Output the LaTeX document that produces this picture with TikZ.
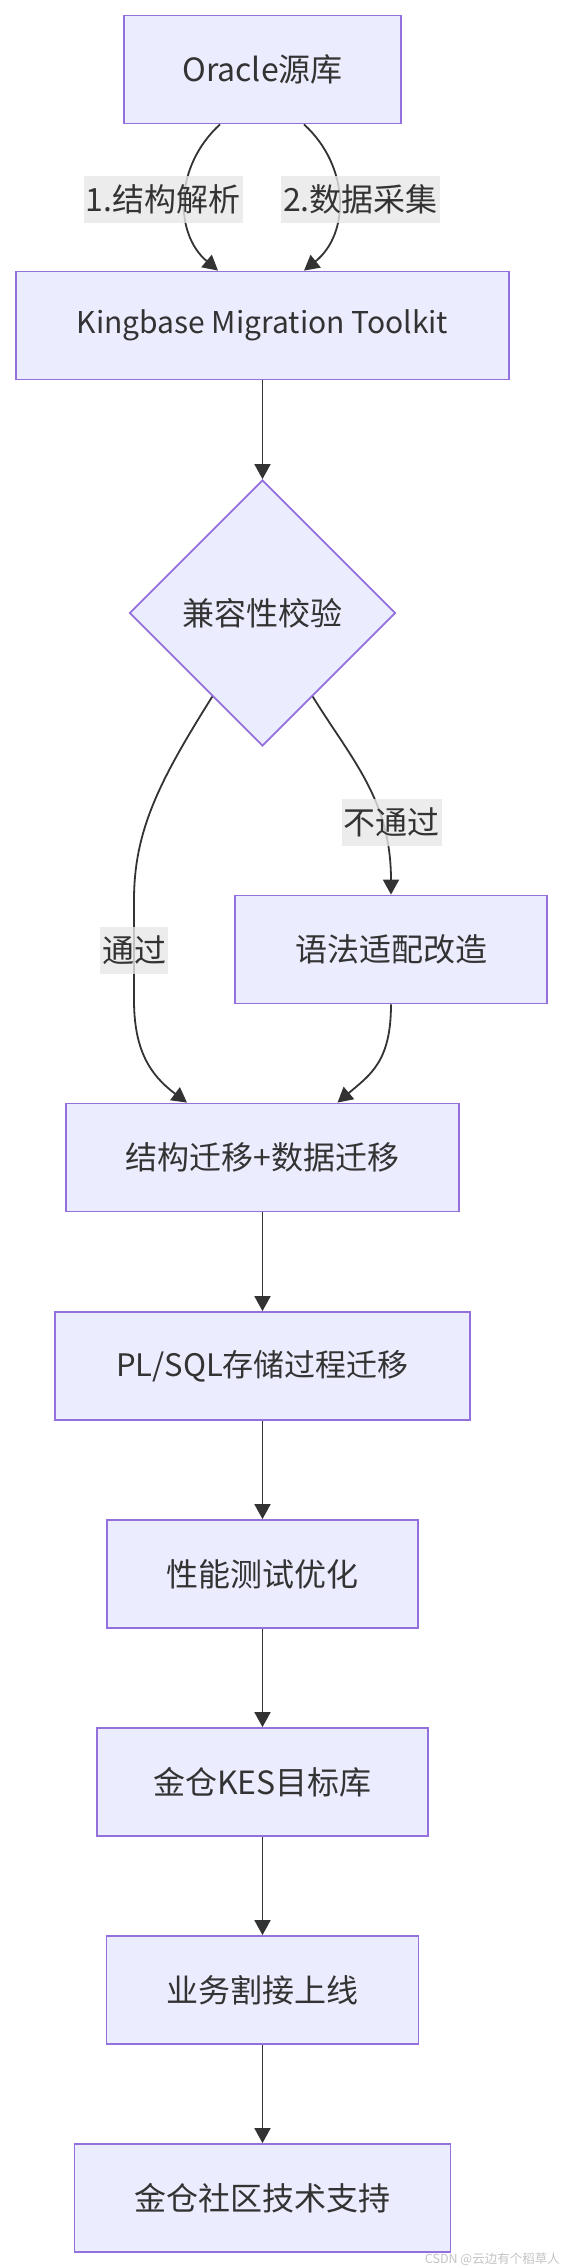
\documentclass[tikz,border=0pt]{standalone}
\usepackage{fontspec}
\setmainfont{Noto Sans CJK SC}
\usetikzlibrary{arrows.meta,shapes.geometric}
\definecolor{nodefill}{HTML}{ECECFF}
\definecolor{nodeline}{HTML}{9370DB}
\definecolor{edgecol}{HTML}{333333}
\definecolor{lblbg}{HTML}{E8E8E8}
\definecolor{txt}{HTML}{333333}
\definecolor{wm}{HTML}{C4C4C4}
\begin{document}
\begin{tikzpicture}[x=1pt,y=-1pt,
  nfont/.style={font=\fontsize{32pt}{38pt}\selectfont},
  box/.style={draw=nodeline, fill=nodefill, line width=1.8pt, minimum height=108pt, inner sep=0pt, text=txt, nfont},
  dec/.style={diamond, aspect=1, draw=nodeline, fill=nodefill, line width=1.8pt, minimum width=266pt, minimum height=266pt, inner sep=0pt, text=txt, nfont},
  edge/.style={draw=edgecol, line width=1.8pt, -{Triangle[width=16pt,length=15pt]}},
  lbl/.style={fill=lblbg, fill opacity=0.8, text opacity=1, text=txt, nfont, inner xsep=2pt, inner ysep=0pt, minimum height=47pt}
]
\fill[white] (0,0) rectangle (563,2268);
\useasboundingbox (0,0) rectangle (563,2268);

\node[box, minimum width=277pt] (o) at (262.5,69.5) {Oracle源库};
\node[box, minimum width=493pt, font=\fontsize{30pt}{36pt}\selectfont] (k) at (262.5,325.5) {Kingbase Migration Toolkit};
\node[dec] (d) at (262.5,613) {兼容性校验};
\node[box, minimum width=312pt] (g) at (391,949.5) {语法适配改造};
\node[box, minimum width=393pt] (s) at (262.5,1157.5) {结构迁移+数据迁移};
\node[box, minimum width=415pt, font=\fontsize{31pt}{37pt}\selectfont] (p) at (262.5,1366) {PL/SQL存储过程迁移};
\node[box, minimum width=311pt] (t) at (262.5,1574) {性能测试优化};
\node[box, minimum width=331pt] (kes) at (262.5,1782) {金仓KES目标库};
\node[box, minimum width=312pt] (b) at (262.5,1990) {业务割接上线};
\node[box, minimum width=376pt] (c) at (262.5,2198) {金仓社区技术支持};

\draw[edge] ([xshift=-42.5pt]o.south) .. controls +(-46,42) and +(-44,-37) .. node[lbl, pos=0.5, xshift=-22pt] {1.结构解析} ([xshift=-44.5pt]k.north);
\draw[edge] ([xshift=41.5pt]o.south) .. controls +(46,42) and +(46,-37) .. node[lbl, pos=0.5, xshift=22pt] {2.数据采集} ([xshift=41.5pt]k.north);
\draw[edge] (k.south) -- (d.north);
\draw[edge] (d.239) .. controls (160,780) and (134,830) .. (134,900) -- node[lbl] {通过} (134,1000) .. controls (134,1050) and (150,1075) .. ([xshift=-75.5pt]s.north);
\draw[edge] (d.301) .. controls (352,760) and (391,800) .. node[lbl, pos=0.7, xshift=10pt] {不通过} (g.north);
\draw[edge] (g.south) .. controls +(0,57) and +(33,-28) .. ([xshift=75pt]s.north);
\draw[edge] (s.south) -- (p.north);
\draw[edge] (p.south) -- (t.north);
\draw[edge] (t.south) -- (kes.north);
\draw[edge] (kes.south) -- (b.north);
\draw[edge] (b.south) -- (c.north);

\node[anchor=east, text=wm, font=\fontsize{12.5pt}{14pt}\selectfont, inner sep=0pt] (w) at (560,2259) {CSDN @云边有个稻草人};
\end{tikzpicture}
\end{document}
